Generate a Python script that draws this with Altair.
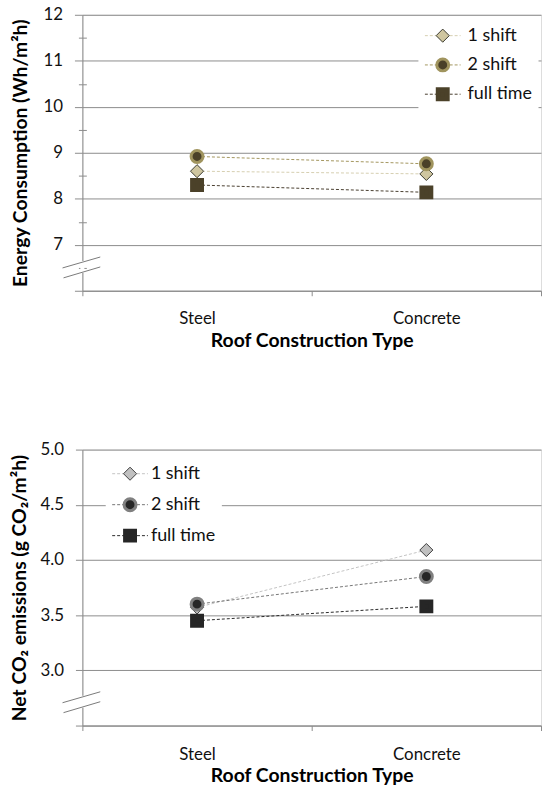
import altair as alt
import pandas as pd

# ---------------- data ----------------
categories = ["Steel", "Concrete"]
series = ["1 shift", "2 shift", "full time"]

energy_1_shift = [8.60, 8.54]
energy_2_shift = [8.92, 8.76]
energy_full_time = [8.30, 8.14]

co2_1_shift = [3.57, 4.09]
co2_2_shift = [3.60, 3.85]
co2_full_time = [3.45, 3.58]

energy_ticks = [6, 7, 8, 9, 10, 11, 12]
energy_minor_ticks = [6.5, 7.5, 8.5, 9.5, 10.5, 11.5]
co2_ticks = [2.5, 3.0, 3.5, 4.0, 4.5, 5.0]

# ---------------- style ----------------
FONT = "Lato"
GRID = "#8c8c8c"
W = 462
H = 278
DIAMOND = "M0,-1.1L1.1,0L0,1.1L-1.1,0Z"
SQUARE = "M-0.75,-0.75H0.75V0.75H-0.75Z"
LEG_FS = 18
TITLE_FS = 19.5


def table(cols):
    rows = []
    for s, vals in zip(series, cols):
        for c, v in zip(categories, vals):
            rows.append({"type": c, "series": s, "series_l": s, "value": v})
    return pd.DataFrame(rows)


def panel(df, ytitle, ydomain, yticks, yfmt, minor, line_colors, fill_colors,
          stroke_colors, mx, my, sp, lab_dist, title_pad, label_pad, tick_len,
          xlabel_pad, xtitle_pad):
    xenc = alt.X(
        "type:N", sort=categories, title="Roof Construction Type",
        scale=alt.Scale(type="band", paddingInner=0, paddingOuter=0),
        axis=alt.Axis(labelAngle=0, tickBand="extent", tickSize=5, tickColor=GRID,
                      domainColor=GRID, labelFont=FONT, labelFontSize=17,
                      labelColor="#111111", labelPadding=xlabel_pad, titleFont=FONT,
                      titleFontSize=TITLE_FS, titleFontWeight="bold", titleColor="#000000",
                      titlePadding=xtitle_pad, grid=False),
    )
    yenc = alt.Y(
        "value:Q", title=ytitle,
        scale=alt.Scale(domain=ydomain, nice=False, zero=False),
        axis=alt.Axis(values=yticks, format=yfmt,
                      labelExpr=f"datum.value == {ydomain[0]} ? '' : datum.label",
                      grid=True, gridColor=GRID, domainColor=GRID, tickColor=GRID,
                      tickSize=tick_len, labelPadding=label_pad, labelFont=FONT,
                      labelFontSize=17, labelColor="#111111", titleFont=FONT,
                      titleFontSize=TITLE_FS, titleFontWeight="bold", titleColor="#000000",
                      titlePadding=title_pad),
    )

    # line-symbol legend (drawn underneath, white box, hidden labels)
    legA = alt.Legend(orient="none", legendX=mx - 18.5 - 6, legendY=my - 8 - 6,
                      title=None, columns=1, clipHeight=16, rowPadding=sp - 16,
                      labelOffset=lab_dist - 18.5, labelFont=FONT, labelFontSize=LEG_FS,
                      labelOpacity=0, symbolType="stroke", symbolSize=1296,
                      symbolStrokeWidth=1, symbolDash=[3, 2], padding=6,
                      fillColor="white", values=series, zindex=1)
    # marker legend (drawn on top, visible labels)
    legB = alt.Legend(orient="none", legendX=mx - 9, legendY=my - 8,
                      title=None, columns=1, clipHeight=16, rowPadding=sp - 16,
                      labelOffset=lab_dist - 9, labelFont=FONT, labelFontSize=LEG_FS,
                      labelColor="#111111", symbolSize=144, padding=0,
                      values=series, zindex=2)

    base = alt.Chart(df)
    lines = base.mark_line(strokeWidth=1, strokeDash=[3, 2]).encode(
        x=xenc, y=yenc,
        color=alt.Color("series_l:N", sort=series, scale=alt.Scale(range=line_colors),
                        legend=legA),
    )
    pts = base.mark_point(filled=True, opacity=1, size=144).encode(
        x=xenc, y=yenc,
        shape=alt.Shape("series:N", scale=alt.Scale(domain=series, range=[DIAMOND, "circle", SQUARE]),
                        legend=legB),
        fill=alt.Fill("series:N", scale=alt.Scale(domain=series, range=fill_colors), legend=legB),
        stroke=alt.Stroke("series:N", scale=alt.Scale(domain=series, range=stroke_colors), legend=legB),
        strokeWidth=alt.StrokeWidth("series:N",
                                    scale=alt.Scale(type="point", domain=series, range=[1, 5], padding=0),
                                    legend=legB),
    )

    # axis-break glyph on the value axis
    brk = alt.Chart(pd.DataFrame({"k": [0]}))
    gap = brk.mark_rule(color="white", strokeWidth=4).encode(
        x=alt.value(0), y=alt.value(248), y2=alt.value(260))
    s1 = brk.mark_rule(color="#7a7a7a", strokeWidth=1).encode(
        x=alt.value(-20), x2=alt.value(18), y=alt.value(255), y2=alt.value(244))
    s2 = brk.mark_rule(color="#7a7a7a", strokeWidth=1).encode(
        x=alt.value(-19), x2=alt.value(18), y=alt.value(265), y2=alt.value(254))

    main = alt.layer(lines, pts, gap, s1, s2)

    if minor:
        minor_layer = base.mark_point(opacity=0).encode(
            y=alt.Y("value:Q", scale=alt.Scale(domain=ydomain, nice=False, zero=False),
                    axis=alt.Axis(orient="left", values=minor, labels=False, domain=False,
                                  grid=False, tickSize=8, offset=-4, tickColor=GRID,
                                  title=None)),
        )
        out = alt.layer(main, minor_layer).resolve_scale(y="independent")
    else:
        out = main
    return out.properties(width=W, height=H)


top = panel(
    table([energy_1_shift, energy_2_shift, energy_full_time]),
    "Energy Consumption (Wh/m²h)", [6, 12], energy_ticks, "d", energy_minor_ticks,
    ["#d6cfb0", "#a3965f", "#4a4030"],
    ["#cfc6a0", "#4a4028", "#4b4129"],
    ["#3a3a30", "#a0945e", "#4b4129"],
    mx=363, my=21, sp=27.5, lab_dist=25, title_pad=13, label_pad=12, tick_len=8,
    xlabel_pad=15, xtitle_pad=5,
)

bottom = panel(
    table([co2_1_shift, co2_2_shift, co2_full_time]),
    "Net CO₂ emissions (g CO₂/m²h)", [2.5, 5.0], co2_ticks, ".1f", None,
    ["#c4c4c4", "#767676", "#2a2a2a"],
    ["#c0c0c0", "#262626", "#262626"],
    ["#404040", "#808080", "#262626"],
    mx=48, my=24.3, sp=29.2, lab_dist=21, title_pad=11, label_pad=12, tick_len=7,
    xlabel_pad=16, xtitle_pad=4,
)

chart = alt.vconcat(top, bottom, spacing=90).resolve_scale(
    color="independent", fill="independent", stroke="independent",
    shape="independent", strokeWidth="independent",
).resolve_legend(
    color="independent", fill="independent", stroke="independent",
    shape="independent", strokeWidth="independent",
).properties(
    padding={"left": 8, "top": 2, "right": 0, "bottom": 0}
).configure_view(stroke="transparent").configure(font=FONT)

chart.save("out.html", embed_options={"renderer": "svg", "actions": False})
